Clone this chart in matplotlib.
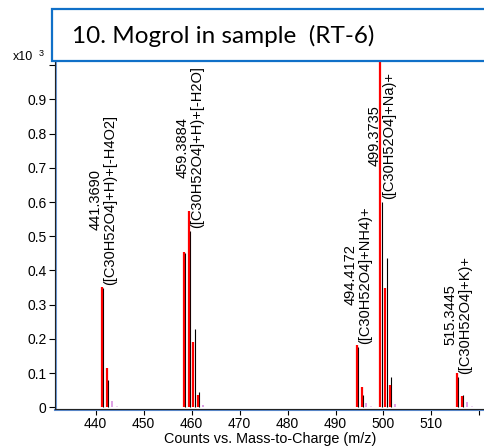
import matplotlib
matplotlib.use("Agg")
import matplotlib.pyplot as plt
import matplotlib.transforms as mtransforms
from matplotlib.patches import Rectangle

plt.rcParams['font.family'] = ['Liberation Sans', 'DejaVu Sans']

# measured spectrum (red), predicted isotope pattern (black), minor isotopes (pink)
red_mz = [441.369, 442.372, 458.38, 459.388, 460.391, 461.394, 494.417, 495.42,
          499.374, 500.377, 501.38, 515.345, 516.348]
red_int = [0.353, 0.116, 0.453, 0.574, 0.19, 0.036, 0.182, 0.058,
           1.05, 0.35, 0.065, 0.099, 0.034]

black_mz = [441.62, 442.62, 458.63, 459.64, 460.64, 461.64, 494.67, 495.67,
            499.62, 500.63, 501.63, 515.6, 516.6]
black_int = [0.35, 0.08, 0.45, 0.515, 0.228, 0.046, 0.177, 0.035,
             0.60, 0.437, 0.09, 0.09, 0.036]

pink_mz = [443.38, 462.4, 496.42, 502.38, 517.35]
pink_int = [0.019, 0.007, 0.012, 0.009, 0.015]
lilac_mz = [444.38, 497.42, 518.35]
lilac_int = [0.004, 0.003, 0.005]

ann_mz = [441.369, 459.388, 494.417, 499.374, 515.345]
ann_top = [0.35, 0.515, 0.177, 0.60, 0.09]
ann_text = ["441.3690\n([C30H52O4]+H)+[-H4O2]",
            "459.3884\n([C30H52O4]+H)+[-H2O]",
            "494.4172\n([C30H52O4]+NH4)+",
            "499.3735\n([C30H52O4]+Na)+",
            "515.3445\n([C30H52O4]+K)+"]

yticks = [0, 0.1, 0.2, 0.3, 0.4, 0.5, 0.6, 0.7, 0.8, 0.9, 1.0]
ytick_labels = ["0", "0.1", "0.2", "0.3", "0.4", "0.5", "0.6", "0.7", "0.8", "0.9", ""]
xticks = [440, 450, 460, 470, 480, 490, 500, 510, 520]
xtick_labels = ["440", "450", "460", "470", "480", "490", "500", "510", ""]

fig = plt.figure(figsize=(4.85, 4.46), dpi=100)
ax = fig.add_axes([55 / 485, 1 - 408.5 / 446, 431 / 485, 346.5 / 446])

ax.vlines(red_mz, 0, red_int, color="#FF0000", lw=1.6, zorder=3)
ax.vlines(black_mz, 0, black_int, color="black", lw=0.8, zorder=2)
ax.vlines(pink_mz, 0, pink_int, color="#D890E0", lw=1.2, zorder=2)
ax.vlines(lilac_mz, 0, lilac_int, color="#EACBF0", lw=1.2, zorder=2)

for mz, top, txt in zip(ann_mz, ann_top, ann_text):
    ax.annotate(txt, xy=(mz, top), xytext=(1, 3), textcoords="offset pixels",
                rotation=90, ha="center", va="bottom", multialignment="center",
                fontsize=10.5, linespacing=1.05, zorder=4)

ax.set_xlim(431.55, 521.36)
ax.set_ylim(-0.0035, 1.0096)
ax.set_xticks(xticks)
ax.set_xticklabels(xtick_labels)
ax.set_yticks(yticks)
ax.set_yticklabels(ytick_labels)
ax.tick_params(axis="both", labelsize=10, length=4, width=0.8, direction="out", pad=2)
ax.set_xlabel("Counts vs. Mass-to-Charge (m/z)", fontsize=10.4, labelpad=0.5)

for side in ("top", "right"):
    ax.spines[side].set_visible(False)
for side in ("left", "bottom"):
    ax.spines[side].set_color("#222222")
    ax.spines[side].set_linewidth(0.8)
    ax.spines[side].set_zorder(5)

# light blue double line along both axes
left_tr = mtransforms.offset_copy(ax.transAxes, fig=fig, x=1.5, y=0, units="dots")
bottom_tr = mtransforms.offset_copy(ax.transAxes, fig=fig, x=0, y=-1.5, units="dots")
ax.plot([0, 0], [0, 1], transform=left_tr, color="#6E9BDA", lw=1.5, clip_on=False, zorder=5)
ax.plot([0, 1], [0, 0], transform=bottom_tr, color="#5B8BD0", lw=1.5, clip_on=False, zorder=5)

fig.text(13 / 485, 1 - 60 / 446, "x10", fontsize=9, ha="left", va="baseline")
fig.text(38.5 / 485, 1 - 56 / 446, "3", fontsize=6.5, ha="left", va="baseline")

# title box
fig.patches.append(Rectangle((52 / 485, 1 - 61 / 446), 1.0, 52 / 446,
                             transform=fig.transFigure, facecolor="white",
                             edgecolor="#1070C8", lw=1.6, zorder=10))
fig.text(72 / 485, 1 - 36 / 446, "10. Mogrol in sample  (RT-6)", family="Lato",
         fontsize=17.5, ha="left", va="center", zorder=11)

fig.savefig("out.png", dpi=100)
